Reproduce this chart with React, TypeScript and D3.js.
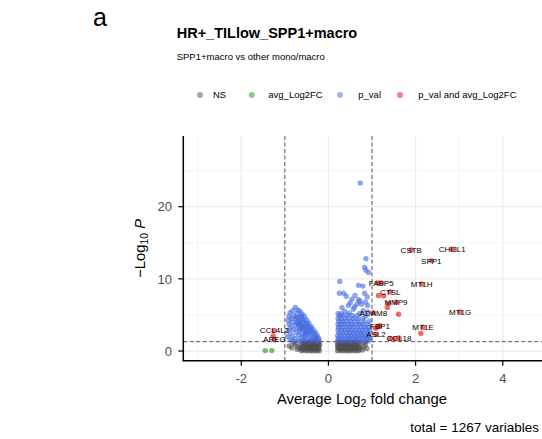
import React from "react";
import * as d3 from "d3";

const panelLetter = "a";
const title = "HR+_TILlow_SPP1+macro";
const subtitle = "SPP1+macro vs other mono/macro";
const caption = "total = 1267 variables";
const legendLabels = ["NS", "avg_Log2FC", "p_val", "p_val and avg_Log2FC"];
const xTicks = [-2, 0, 2, 4];
const xMinor = [-3, -1, 1, 3];
const yTicks = [0, 10, 20];
const yMinor = [5, 15, 25];
const fcCutoff = 1;
const pCutoff = 0.05;

// NS (grey) points [avg_log2FC, -log10 p]
const nsPoints: [number, number][] = [
  [-0.62, 0.04], [-0.55, 0.07], [-0.49, 0.03], [-0.43, 0.06], [-0.37, 0.02], [-0.31, 0.05], [-0.26, 0.08], [-0.21, 0.03],
  [-0.64, 0.31], [-0.58, 0.28], [-0.51, 0.33], [-0.45, 0.29], [-0.39, 0.32], [-0.33, 0.27], [-0.27, 0.31], [-0.22, 0.34],
  [-0.60, 0.56], [-0.54, 0.53], [-0.47, 0.58], [-0.41, 0.54], [-0.35, 0.57], [-0.29, 0.52], [-0.23, 0.56],
  [-0.63, 0.81], [-0.56, 0.78], [-0.49, 0.83], [-0.43, 0.79], [-0.37, 0.82], [-0.31, 0.77], [-0.25, 0.81], [-0.20, 0.84],
  [-0.58, 1.04], [-0.51, 1.07], [-0.45, 1.02], [-0.39, 1.06], [-0.33, 1.03], [-0.27, 1.08], [-0.22, 1.05],
  [-0.55, 1.25], [-0.48, 1.22], [-0.42, 1.27], [-0.36, 1.24], [-0.30, 1.26], [-0.24, 1.22],
  [-0.90, 0.70], [-0.84, 0.45], [-0.76, 0.95], [-0.72, 0.25], [-0.80, 1.15], [-0.70, 0.60],
  [0.21, 0.04], [0.27, 0.07], [0.33, 0.03], [0.39, 0.06], [0.45, 0.02], [0.51, 0.05], [0.57, 0.08], [0.63, 0.03], [0.69, 0.05],
  [0.23, 0.31], [0.29, 0.28], [0.35, 0.33], [0.41, 0.29], [0.47, 0.32], [0.53, 0.27], [0.59, 0.31], [0.65, 0.34], [0.71, 0.29],
  [0.21, 0.56], [0.27, 0.53], [0.33, 0.58], [0.39, 0.54], [0.45, 0.57], [0.51, 0.52], [0.57, 0.56], [0.63, 0.55], [0.70, 0.58],
  [0.22, 0.81], [0.28, 0.78], [0.34, 0.83], [0.40, 0.79], [0.46, 0.82], [0.52, 0.77], [0.58, 0.81], [0.64, 0.84], [0.72, 0.80],
  [0.21, 1.04], [0.27, 1.07], [0.33, 1.02], [0.39, 1.06], [0.45, 1.03], [0.51, 1.08], [0.57, 1.05], [0.63, 1.02], [0.69, 1.07],
  [0.24, 1.25], [0.30, 1.22], [0.36, 1.27], [0.42, 1.24], [0.48, 1.26], [0.54, 1.22], [0.60, 1.25], [0.66, 1.23],
  [0.80, 0.55], [0.85, 0.95], [0.78, 0.15], [0.88, 0.35], [0.82, 1.20],
];

// avg_Log2FC only (green)
const fcPoints: [number, number][] = [
  [-1.45, 0.06], [-1.30, 0.06],
];

// p_val only (blue)
const pPoints: [number, number][] = [
  // left cluster
  [-0.76, 6.05], [-0.70, 5.70], [-0.82, 5.60], [-0.88, 5.30], [-0.65, 5.50], [-0.72, 5.20], [-0.60, 5.10],
  [-0.80, 4.90], [-0.91, 4.80], [-0.55, 4.80], [-0.67, 4.70], [-0.85, 4.50], [-0.75, 4.40], [-0.62, 4.40],
  [-0.50, 4.30], [-0.92, 4.20], [-0.70, 4.10], [-0.58, 4.00], [-0.82, 4.00], [-0.45, 3.90], [-0.65, 3.80],
  [-0.90, 3.70], [-0.52, 3.60], [-0.76, 3.60], [-0.40, 3.40], [-0.62, 3.40], [-0.86, 3.30], [-0.70, 3.20],
  [-0.48, 3.20], [-0.35, 3.00], [-0.57, 3.00], [-0.80, 3.00], [-0.92, 2.90], [-0.66, 2.80], [-0.42, 2.80],
  [-0.30, 2.60], [-0.52, 2.60], [-0.74, 2.60], [-0.88, 2.50], [-0.60, 2.40], [-0.38, 2.40], [-0.26, 2.20],
  [-0.47, 2.20], [-0.68, 2.20], [-0.82, 2.10], [-0.94, 2.00], [-0.55, 2.00], [-0.33, 2.00], [-0.23, 1.80],
  [-0.42, 1.80], [-0.62, 1.80], [-0.76, 1.70], [-0.88, 1.60], [-0.50, 1.60], [-0.30, 1.60], [-0.21, 1.50],
  [-0.38, 1.45], [-0.57, 1.45], [-0.70, 1.40], [-0.83, 1.40], [-0.45, 1.35], [-0.27, 1.35], [-0.64, 1.35],
  [-0.58, 3.30], [-0.44, 2.50], [-0.68, 3.60], [-0.54, 2.30], [-0.36, 1.70],
  [-0.62, 4.90], [-0.74, 4.70], [-0.56, 4.30], [-0.66, 4.20], [-0.50, 3.80], [-0.72, 3.90], [-0.60, 3.60],
  [-0.46, 3.40], [-0.52, 3.00], [-0.40, 3.10], [-0.64, 3.10], [-0.34, 2.50], [-0.48, 2.70], [-0.28, 1.90],
  // right cluster, scattered top
  [0.73, 23.3], [0.86, 12.8], [0.83, 11.6], [0.86, 11.2], [0.92, 10.9], [0.26, 9.65], [0.69, 9.1], [0.79, 9.0],
  [0.25, 8.0], [0.35, 8.0], [0.41, 7.6], [0.61, 7.7], [0.54, 7.2], [0.69, 7.1], [0.83, 8.0], [0.89, 7.5],
  [0.65, 6.5], [0.46, 6.3], [0.76, 6.5], [0.90, 6.3], [0.31, 6.0], [0.57, 5.8], [0.38, 5.5], [0.80, 5.6], [0.91, 5.4],
  [0.72, 6.9], [0.50, 6.7], [0.60, 6.1], [0.85, 6.8],
  // right cluster, dense body
  [0.21, 1.42], [0.29, 1.38], [0.37, 1.45], [0.45, 1.40], [0.53, 1.36], [0.61, 1.43], [0.69, 1.39], [0.77, 1.44], [0.85, 1.37], [0.93, 1.41],
  [0.23, 1.76], [0.31, 1.72], [0.40, 1.79], [0.48, 1.74], [0.56, 1.77], [0.64, 1.71], [0.72, 1.78], [0.80, 1.73], [0.88, 1.76], [0.95, 1.74],
  [0.21, 2.12], [0.28, 2.08], [0.36, 2.14], [0.44, 2.09], [0.52, 2.13], [0.60, 2.07], [0.68, 2.11], [0.76, 2.15], [0.84, 2.10], [0.92, 2.08],
  [0.24, 2.52], [0.32, 2.47], [0.41, 2.54], [0.49, 2.49], [0.57, 2.51], [0.65, 2.46], [0.73, 2.53], [0.81, 2.48], [0.90, 2.50],
  [0.22, 2.91], [0.30, 2.87], [0.38, 2.94], [0.46, 2.89], [0.54, 2.92], [0.62, 2.86], [0.70, 2.93], [0.78, 2.88], [0.87, 2.91], [0.95, 2.85],
  [0.23, 3.31], [0.31, 3.27], [0.40, 3.34], [0.49, 3.29], [0.57, 3.32], [0.66, 3.26], [0.75, 3.33], [0.84, 3.28], [0.92, 3.30],
  [0.22, 3.72], [0.29, 3.67], [0.37, 3.74], [0.45, 3.69], [0.53, 3.71], [0.62, 3.66], [0.71, 3.73], [0.80, 3.68], [0.90, 3.70],
  [0.24, 4.11], [0.32, 4.07], [0.41, 4.14], [0.50, 4.09], [0.60, 4.12], [0.70, 4.06], [0.82, 4.10], [0.94, 4.13],
  [0.22, 4.52], [0.30, 4.47], [0.39, 4.54], [0.48, 4.49], [0.58, 4.51], [0.68, 4.46], [0.79, 4.53],
  [0.25, 4.92], [0.34, 4.88], [0.44, 4.95], [0.55, 4.90], [0.66, 4.93], [0.86, 4.87],
  [0.22, 5.22], [0.30, 5.18], [0.48, 5.25], [0.72, 5.20],
];

// p_val and avg_Log2FC (red), unlabelled
const fcpPoints: [number, number][] = [
  [1.13, 9.45], [1.15, 7.70], [1.27, 7.65], [1.38, 6.60], [1.35, 6.05], [1.61, 5.10],
  [1.08, 3.15], [1.14, 3.40], [2.12, 2.45], [1.42, 1.75], [1.52, 1.72], [-1.27, 2.10],
];

// labelled genes (p_val and avg_Log2FC)
const labelGenes = ["CSTB", "CHI3L1", "SPP1", "FABP5", "MT1H", "CTSL", "MMP9", "ADAM8", "MT1G", "FBP1", "MT1E", "ASL2", "CCL18", "CCL4L2", "AREG"];
const labelX = [1.90, 2.84, 2.36, 1.21, 2.14, 1.42, 1.55, 1.03, 3.02, 1.18, 2.17, 1.09, 1.62, -1.24, -1.24];
const labelY = [14.0, 14.1, 12.5, 9.45, 9.3, 8.2, 6.75, 5.3, 5.4, 3.5, 3.3, 2.3, 1.8, 2.85, 1.6];

const COLORS = {
  ns: "#4D4D4D",
  fc: "#228B22",
  p: "#4169E1",
  fcp: "#EE0000",
};
const legendColors = [COLORS.ns, COLORS.fc, COLORS.p, COLORS.fcp];

export default function App() {
  const W = 542;
  const H = 439;
  const left = 183.3;
  const right = 542;
  const top = 136;
  const bottom = 360.7;

  const x = d3.scaleLinear().domain([-3.33, 4.9]).range([left, right]);
  const y = d3.scaleLinear().domain([-1.34, 29.8]).range([bottom, top]);

  const font = "'Liberation Sans', Arial, Helvetica, sans-serif";
  const r = 2.7;
  const alpha = 0.6;

  const pThresh = -Math.log10(pCutoff);

  const legendDotX = [200, 251.7, 340, 400];
  const legendTextX = [213, 268.3, 358.3, 418.3];

  const dots = (pts: [number, number][], color: string, key: string) =>
    pts.map((d, i) => (
      <circle key={key + i} cx={x(d[0])} cy={y(d[1])} r={r} fill={color} fillOpacity={alpha} />
    ));

  return (
    <svg width={W} height={H} style={{ position: "absolute", left: 0, top: 0, display: "block" }} fontFamily={font}>
      <rect x={0} y={0} width={W} height={H} fill="#fff" />
      <text x={93} y={26} fontSize={25} fill="#000">{panelLetter}</text>
      <text x={176.7} y={37.7} fontSize={14.5} fontWeight="bold" fill="#000">{title}</text>
      <text x={176.7} y={60.3} fontSize={9.5} fill="#000">{subtitle}</text>

      {/* legend */}
      {legendLabels.map((lab, i) => (
        <g key={lab}>
          <circle cx={legendDotX[i]} cy={95} r={3} fill={legendColors[i]} fillOpacity={0.5} />
          <text x={legendTextX[i]} y={98.4} fontSize={9.5} fill="#000">{lab}</text>
        </g>
      ))}

      <defs>
        <clipPath id="panel">
          <rect x={left} y={top} width={right - left} height={bottom - top} />
        </clipPath>
      </defs>

      {/* grid */}
      <g>
        {yMinor.map((t) => (
          <line key={"ym" + t} x1={left} x2={right} y1={y(t)} y2={y(t)} stroke="#F0F0F0" strokeWidth={0.8} />
        ))}
        {xMinor.map((t) => (
          <line key={"xm" + t} x1={x(t)} x2={x(t)} y1={top} y2={bottom} stroke="#F0F0F0" strokeWidth={0.8} />
        ))}
        {yTicks.map((t) => (
          <line key={"yg" + t} x1={left} x2={right} y1={y(t)} y2={y(t)} stroke="#EBEBEB" strokeWidth={1.2} />
        ))}
        {xTicks.map((t) => (
          <line key={"xg" + t} x1={x(t)} x2={x(t)} y1={top} y2={bottom} stroke="#EBEBEB" strokeWidth={1.2} />
        ))}
      </g>

      {/* points */}
      <g clipPath="url(#panel)">
        {dots(nsPoints, COLORS.ns, "ns")}
        {dots(fcPoints, COLORS.fc, "fc")}
        {dots(pPoints, COLORS.p, "p")}
        {dots(fcpPoints, COLORS.fcp, "fcp")}
        {labelGenes.map((g, i) => (
          <circle key={"lp" + g} cx={x(labelX[i])} cy={y(labelY[i])} r={r} fill={COLORS.fcp} fillOpacity={alpha} />
        ))}
      </g>

      {/* cutoff lines */}
      <g stroke="#555" strokeWidth={1} strokeDasharray="4,2.5" fill="none">
        <line x1={x(-fcCutoff)} x2={x(-fcCutoff)} y1={top} y2={bottom} />
        <line x1={x(fcCutoff)} x2={x(fcCutoff)} y1={top} y2={bottom} />
        <line x1={left} x2={right} y1={y(pThresh)} y2={y(pThresh)} />
      </g>

      {/* labels */}
      <g fontSize={8} fill="#000" textAnchor="middle">
        {labelGenes.map((g, i) => (
          <text key={"lt" + g} x={x(labelX[i])} y={y(labelY[i])} dy="0.35em">{g}</text>
        ))}
      </g>

      {/* axes */}
      <line x1={left} x2={left} y1={top} y2={bottom} stroke="#000" strokeWidth={1.5} />
      <line x1={left - 0.75} x2={right} y1={bottom} y2={bottom} stroke="#000" strokeWidth={1.5} />
      {xTicks.map((t) => (
        <g key={"xt" + t}>
          <line x1={x(t)} x2={x(t)} y1={bottom} y2={bottom + 5} stroke="#000" strokeWidth={1.2} />
          <text x={x(t)} y={382.7} fontSize={13} fill="#4D4D4D" textAnchor="middle">{t}</text>
        </g>
      ))}
      {yTicks.map((t) => (
        <g key={"yt" + t}>
          <line x1={left - 5} x2={left} y1={y(t)} y2={y(t)} stroke="#000" strokeWidth={1.2} />
          <text x={172} y={y(t)} dy="0.36em" fontSize={13} fill="#4D4D4D" textAnchor="end">{t}</text>
        </g>
      ))}

      {/* axis titles */}
      <text y={404} fontSize={14.8} fill="#000" textAnchor="middle">
        <tspan x={362}>Average Log</tspan>
        <tspan fontSize={10.5} dy={3}>2</tspan>
        <tspan dy={-3}> fold change</tspan>
      </text>
      <text transform={`translate(145, ${(top + bottom) / 2}) rotate(-90)`} fontSize={14.8} fill="#000" textAnchor="middle">
        <tspan>{"\u2212Log"}</tspan>
        <tspan fontSize={10.5} dy={3}>10</tspan>
        <tspan dy={-3}> </tspan>
        <tspan fontStyle="italic">P</tspan>
      </text>

      <text x={539} y={431.7} fontSize={13.5} fill="#000" textAnchor="end">{caption}</text>
    </svg>
  );
}
